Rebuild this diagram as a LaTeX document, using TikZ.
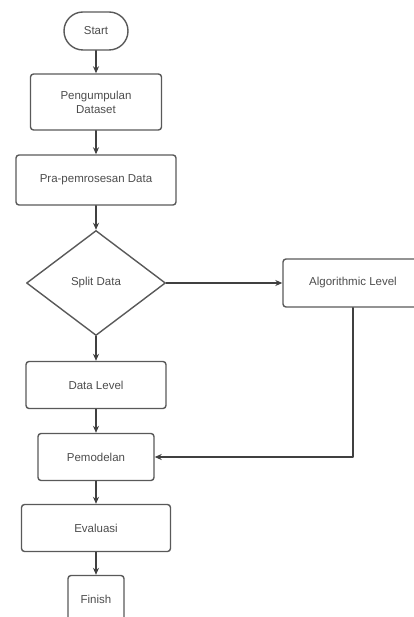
\documentclass[tikz,border=0pt]{standalone}
\usepackage{fontspec}
\setmainfont{Liberation Sans}
\usetikzlibrary{shapes.geometric,arrows.meta}
\begin{document}
\begin{tikzpicture}[x=1pt,y=-1pt,line join=round,line cap=round,>={Stealth[length=7pt,width=6pt]},
 font=\fontsize{11.5}{14}\selectfont,
 box/.style={draw=black!65,line width=1.4pt,rounded corners=3pt,text=black!70,align=center,inner sep=2pt},
 terminal/.style={box,rounded corners=19pt},
 decision/.style={draw=black!65,line width=1.4pt,diamond,text=black!70,inner sep=0pt},
 flow/.style={->,draw=black!75,line width=1.2pt}]
 \useasboundingbox (0,0) rectangle (414,617);
 \node[terminal,minimum width=64pt,minimum height=38pt] (start) at (96,31) {Start};
 \node[box,minimum width=131pt,minimum height=56pt] (kumpul) at (96,102) {Pengumpulan\\Dataset};
 \node[box,minimum width=160pt,minimum height=50pt] (pra) at (96,180) {Pra-pemrosesan Data};
 \node[decision,minimum width=139pt,minimum height=105pt] (split) at (96,283) {Split Data};
 \node[box,minimum width=140pt,minimum height=48pt] (algo) at (353,283) {Algorithmic Level};
 \node[box,minimum width=140pt,minimum height=47pt] (datalvl) at (96,385) {Data Level};
 \node[box,minimum width=116pt,minimum height=47pt] (model) at (96,457) {Pemodelan};
 \node[box,minimum width=149pt,minimum height=47pt] (eval) at (96,528) {Evaluasi};
 \node[box,minimum width=56pt,minimum height=47pt] (finish) at (96,599) {Finish};
 \draw[flow] (start) -- (kumpul);
 \draw[flow] (kumpul) -- (pra);
 \draw[flow] (pra) -- (split);
 \draw[flow] (split) -- (datalvl);
 \draw[flow] (split) -- (algo);
 \draw[flow] (datalvl) -- (model);
 \draw[flow] (algo) |- (model);
 \draw[flow] (model) -- (eval);
 \draw[flow] (eval) -- (finish);
\end{tikzpicture}
\end{document}
